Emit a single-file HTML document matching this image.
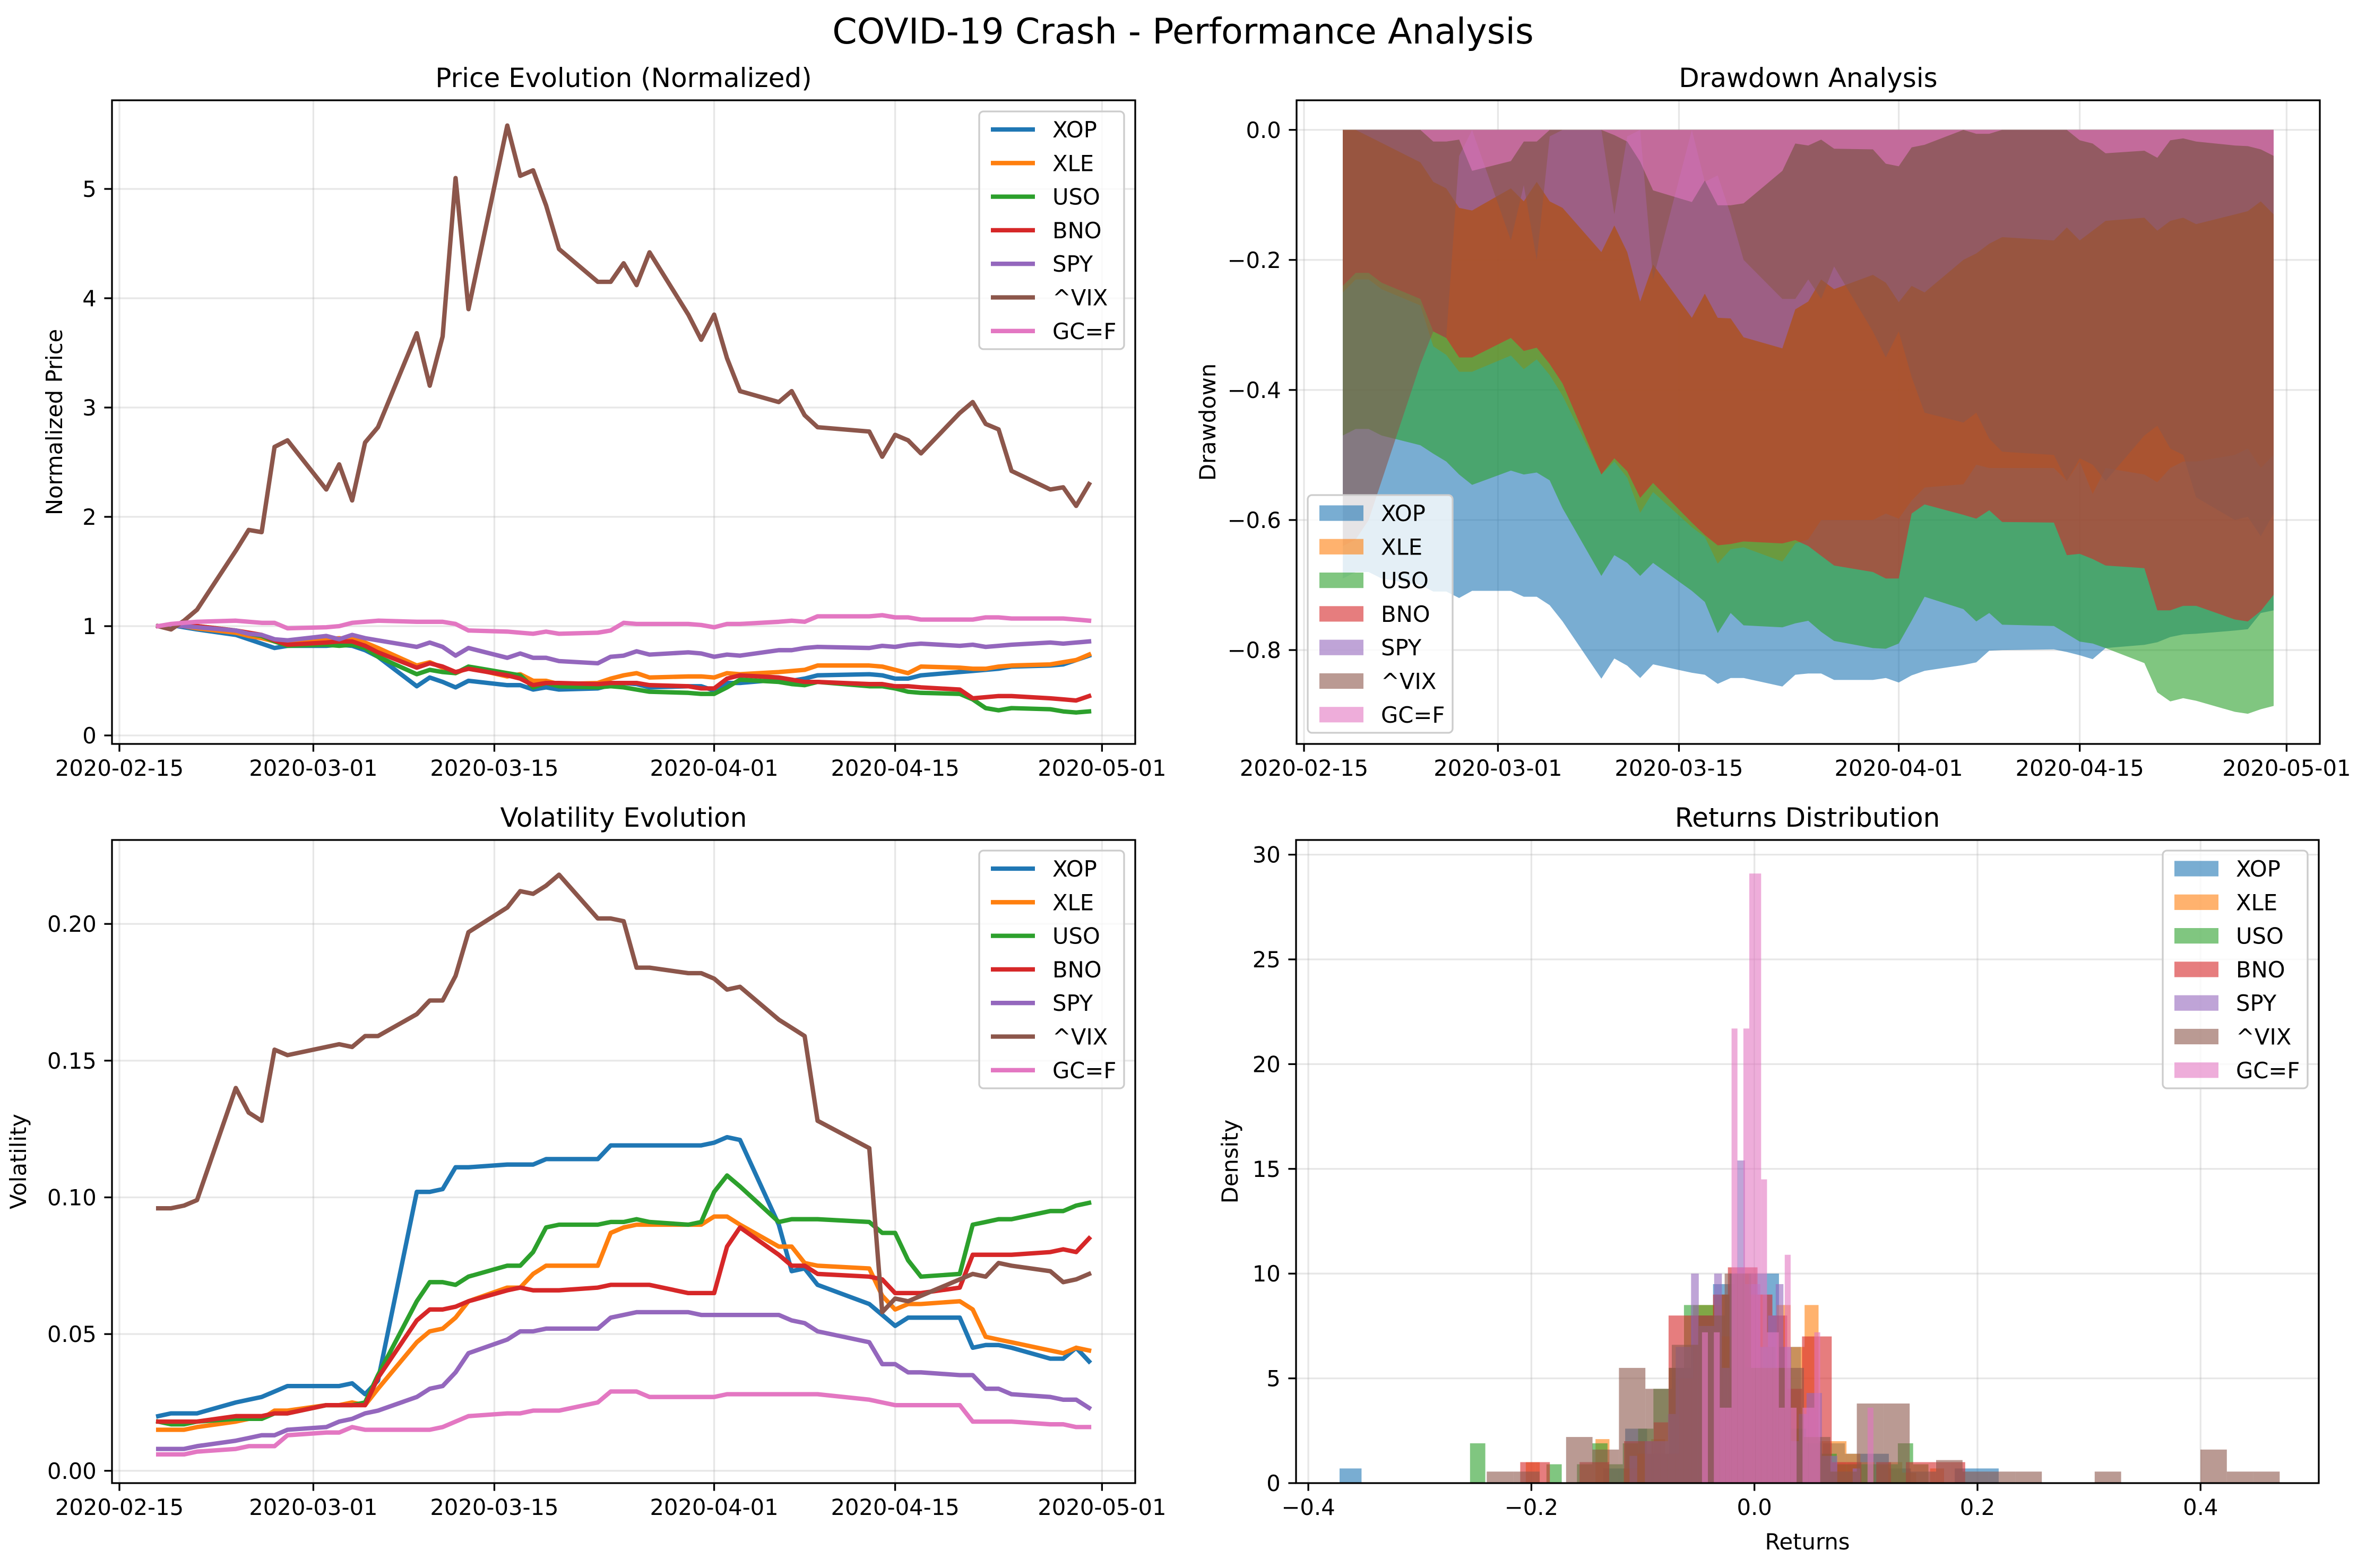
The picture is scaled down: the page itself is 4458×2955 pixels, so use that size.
<!DOCTYPE html>
<html><head><meta charset="utf-8"><title>COVID-19 Crash - Performance Analysis</title>
<style>html,body{margin:0;padding:0;background:#fff}svg{display:block;font-family:"DejaVu Sans","Liberation Sans",sans-serif}</style>
</head><body>
<svg id="fig" xmlns="http://www.w3.org/2000/svg" width="4458" height="2955" viewBox="0 0 4458 2955">
<rect x="0" y="0" width="4458" height="2955" fill="#fff"/>
<text x="2229" y="82" font-size="66.7" text-anchor="middle">COVID-19 Crash - Performance Analysis</text>
</svg>
<script>
// ---------- data ----------
const dates = ["2020-02-18","2020-02-19","2020-02-20","2020-02-21","2020-02-24","2020-02-25","2020-02-26","2020-02-27","2020-02-28",
"2020-03-02","2020-03-03","2020-03-04","2020-03-05","2020-03-06","2020-03-09","2020-03-10","2020-03-11","2020-03-12","2020-03-13",
"2020-03-16","2020-03-17","2020-03-18","2020-03-19","2020-03-20","2020-03-23","2020-03-24","2020-03-25","2020-03-26","2020-03-27","2020-03-30","2020-03-31",
"2020-04-01","2020-04-02","2020-04-03","2020-04-06","2020-04-07","2020-04-08","2020-04-09","2020-04-13","2020-04-14","2020-04-15","2020-04-16","2020-04-17",
"2020-04-20","2020-04-21","2020-04-22","2020-04-23","2020-04-24","2020-04-27","2020-04-28","2020-04-29","2020-04-30"];
const tickers = ["XOP","XLE","USO","BNO","SPY","^VIX","GC=F"];
const dateTicks = ["2020-02-15","2020-03-01","2020-03-15","2020-04-01","2020-04-15","2020-05-01"];

// Normalized price
const priceXOP = [1.00,1.01,0.99,0.97,0.92,0.88,0.84,0.80,0.82, 0.82,0.83,0.82,0.78,0.72,0.45,0.53,0.49,0.44,0.50,0.46,0.46,0.42,0.44,0.42,0.43,0.46,0.48,0.47,0.44,0.45,0.45, 0.41,0.48,0.48,0.51,0.50,0.52,0.55,0.56,0.55,0.52,0.52,0.55,0.58,0.59,0.60,0.61,0.63,0.64,0.65,0.69,0.73];
const priceXLE = [1.00,1.01,1.00,0.98,0.94,0.91,0.89,0.86,0.85, 0.88,0.89,0.88,0.85,0.80,0.64,0.67,0.62,0.57,0.62,0.54,0.56,0.50,0.50,0.47,0.48,0.52,0.55,0.57,0.53,0.54,0.54, 0.53,0.57,0.56,0.58,0.59,0.60,0.64,0.64,0.63,0.60,0.57,0.63,0.62,0.61,0.61,0.63,0.64,0.65,0.67,0.69,0.74];
const priceUSO = [1.00,1.01,1.02,1.00,0.96,0.93,0.91,0.86,0.82, 0.83,0.82,0.83,0.80,0.72,0.56,0.60,0.58,0.57,0.63,0.57,0.55,0.44,0.48,0.45,0.44,0.45,0.44,0.42,0.40,0.39,0.38, 0.38,0.44,0.51,0.49,0.47,0.46,0.49,0.45,0.45,0.43,0.40,0.39,0.38,0.33,0.25,0.23,0.25,0.24,0.22,0.21,0.22];
const priceBNO = [1.00,1.01,1.02,1.00,0.96,0.94,0.92,0.87,0.83, 0.85,0.86,0.86,0.82,0.76,0.62,0.66,0.63,0.58,0.61,0.55,0.52,0.46,0.48,0.48,0.47,0.48,0.48,0.48,0.46,0.45,0.43, 0.43,0.52,0.55,0.53,0.51,0.49,0.49,0.47,0.47,0.45,0.45,0.44,0.42,0.34,0.35,0.36,0.36,0.34,0.33,0.32,0.36];
const priceSPY = [1.00,1.01,1.00,0.99,0.96,0.93,0.92,0.88,0.87, 0.91,0.88,0.92,0.89,0.87,0.81,0.85,0.81,0.73,0.80,0.71,0.75,0.71,0.71,0.68,0.66,0.72,0.73,0.77,0.74,0.76,0.75, 0.72,0.74,0.73,0.78,0.78,0.80,0.81,0.80,0.82,0.81,0.83,0.84,0.82,0.83,0.81,0.82,0.83,0.85,0.84,0.85,0.86];
const priceVIX = [1.00,0.97,1.05,1.15,1.69,1.88,1.86,2.64,2.70, 2.25,2.48,2.15,2.68,2.82,3.68,3.20,3.65,5.10,3.90,5.58,5.12,5.17,4.85,4.45,4.15,4.15,4.32,4.12,4.42,3.85,3.62, 3.85,3.45,3.15,3.05,3.15,2.93,2.82,2.78,2.55,2.75,2.70,2.58,2.95,3.05,2.85,2.80,2.42,2.25,2.27,2.10,2.30];
const priceGC  = [1.00,1.02,1.03,1.04,1.05,1.04,1.03,1.03,0.98, 0.99,1.00,1.03,1.04,1.05,1.04,1.04,1.04,1.02,0.96,0.95,0.94,0.93,0.95,0.93,0.94,0.96,1.03,1.02,1.02,1.02,1.01, 0.99,1.02,1.02,1.04,1.05,1.04,1.09,1.09,1.10,1.08,1.08,1.06,1.06,1.06,1.08,1.08,1.07,1.07,1.07,1.06,1.05];

// Drawdown
const ddXOP = [-0.69,-0.68,-0.68,-0.69,-0.70,-0.71,-0.71,-0.72,-0.709, -0.709,-0.718,-0.718,-0.731,-0.756,-0.844,-0.813,-0.824,-0.843,-0.822,-0.835,-0.838,-0.852,-0.843,-0.843,-0.856,-0.838,-0.836,-0.836,-0.846,-0.846,-0.843, -0.850,-0.839,-0.832,-0.823,-0.819,-0.801,-0.800,-0.799,-0.803,-0.808,-0.814,-0.797,-0.792,-0.788,-0.780,-0.776,-0.775,-0.770,-0.768,-0.743,-0.739];
const ddXLE = [-0.25,-0.23,-0.23,-0.245,-0.27,-0.333,-0.346,-0.372,-0.372, -0.347,-0.368,-0.353,-0.377,-0.409,-0.53,-0.51,-0.535,-0.589,-0.557,-0.611,-0.626,-0.667,-0.645,-0.642,-0.664,-0.636,-0.63,-0.60,-0.60,-0.60,-0.59, -0.598,-0.57,-0.55,-0.545,-0.515,-0.52,-0.52,-0.52,-0.54,-0.51,-0.56,-0.52,-0.53,-0.542,-0.52,-0.51,-0.51,-0.50,-0.49,-0.52,-0.50];
const ddUSO = [-0.47,-0.46,-0.46,-0.47,-0.485,-0.498,-0.51,-0.53,-0.546, -0.524,-0.53,-0.527,-0.539,-0.582,-0.686,-0.654,-0.666,-0.686,-0.666,-0.709,-0.726,-0.774,-0.743,-0.762,-0.765,-0.759,-0.755,-0.772,-0.786,-0.797,-0.798, -0.79,-0.755,-0.718,-0.737,-0.756,-0.743,-0.761,-0.763,-0.775,-0.787,-0.79,-0.797,-0.82,-0.865,-0.879,-0.874,-0.878,-0.895,-0.898,-0.891,-0.886];
const ddBNO = [-0.24,-0.22,-0.22,-0.235,-0.26,-0.31,-0.32,-0.35,-0.35, -0.32,-0.34,-0.335,-0.36,-0.39,-0.53,-0.505,-0.525,-0.566,-0.543,-0.604,-0.623,-0.639,-0.637,-0.633,-0.636,-0.631,-0.64,-0.655,-0.67,-0.68,-0.69, -0.69,-0.59,-0.576,-0.592,-0.598,-0.585,-0.603,-0.604,-0.654,-0.652,-0.66,-0.67,-0.674,-0.739,-0.739,-0.732,-0.732,-0.753,-0.756,-0.74,-0.715];
const ddSPY = [0,0,-0.01,-0.02,-0.05,-0.08,-0.09,-0.12,-0.124, -0.09,-0.11,-0.08,-0.11,-0.12,-0.188,-0.147,-0.188,-0.264,-0.207,-0.289,-0.252,-0.289,-0.29,-0.319,-0.336,-0.276,-0.264,-0.23,-0.245,-0.223,-0.235, -0.265,-0.24,-0.25,-0.2,-0.19,-0.175,-0.165,-0.17,-0.15,-0.17,-0.155,-0.14,-0.135,-0.155,-0.14,-0.135,-0.145,-0.13,-0.125,-0.11,-0.13];
const ddVIX = [-0.64,-0.63,-0.60,-0.54,-0.36,-0.31,-0.32,-0.04,0, -0.17,-0.085,-0.2,-0.01,0,0,-0.13,-0.01,0,-0.23,0,-0.08,-0.07,-0.13,-0.2,-0.26,-0.26,-0.23,-0.26,-0.21,-0.31,-0.35, -0.31,-0.38,-0.435,-0.45,-0.435,-0.475,-0.495,-0.5,-0.54,-0.505,-0.515,-0.54,-0.47,-0.455,-0.49,-0.5,-0.565,-0.6,-0.595,-0.625,-0.59];
const ddGC  = [0,0,0,0,0,-0.018,-0.018,-0.015,-0.063, -0.048,-0.018,-0.018,0,0,0,-0.008,-0.018,-0.049,-0.093,-0.111,-0.078,-0.116,-0.116,-0.113,-0.063,-0.021,-0.024,-0.015,-0.029,-0.03,-0.052, -0.056,-0.027,-0.023,0,-0.006,-0.006,0,0,0,-0.016,-0.021,-0.036,-0.032,-0.043,-0.016,-0.013,-0.018,-0.024,-0.025,-0.03,-0.04];

// Volatility
const volXOP = [0.020,0.021,0.021,0.021,0.025,0.026,0.027,0.029,0.031, 0.031,0.031,0.032,0.028,0.033,0.102,0.102,0.103,0.111,0.111,0.112,0.112,0.112,0.114,0.114,0.114,0.119,0.119,0.119,0.119,0.119,0.119, 0.120,0.122,0.121,0.090,0.073,0.074,0.068,0.061,0.057,0.053,0.056,0.056,0.056,0.045,0.046,0.046,0.045,0.041,0.041,0.045,0.040];
const volXLE = [0.015,0.015,0.015,0.016,0.018,0.019,0.019,0.022,0.022, 0.024,0.024,0.025,0.024,0.030,0.047,0.051,0.052,0.056,0.062,0.067,0.067,0.072,0.075,0.075,0.075,0.087,0.089,0.090,0.090,0.090,0.090, 0.093,0.093,0.090,0.082,0.082,0.076,0.075,0.074,0.064,0.059,0.061,0.061,0.062,0.059,0.049,0.048,0.047,0.044,0.043,0.045,0.044];
const volUSO = [0.018,0.017,0.017,0.018,0.019,0.019,0.019,0.021,0.021, 0.024,0.024,0.024,0.025,0.035,0.062,0.069,0.069,0.068,0.071,0.075,0.075,0.080,0.089,0.090,0.090,0.091,0.091,0.092,0.091,0.090,0.091, 0.102,0.108,0.104,0.091,0.092,0.092,0.092,0.091,0.087,0.087,0.077,0.071,0.072,0.090,0.091,0.092,0.092,0.095,0.095,0.097,0.098];
const volBNO = [0.018,0.018,0.018,0.018,0.020,0.020,0.020,0.021,0.021, 0.024,0.024,0.024,0.024,0.034,0.055,0.059,0.059,0.060,0.062,0.066,0.067,0.066,0.066,0.066,0.067,0.068,0.068,0.068,0.068,0.065,0.065, 0.065,0.082,0.089,0.079,0.075,0.075,0.072,0.071,0.070,0.065,0.065,0.065,0.067,0.079,0.079,0.079,0.079,0.080,0.081,0.080,0.085];
const volSPY = [0.008,0.008,0.008,0.009,0.011,0.012,0.013,0.013,0.015, 0.016,0.018,0.019,0.021,0.022,0.027,0.030,0.031,0.036,0.043,0.048,0.051,0.051,0.052,0.052,0.052,0.056,0.057,0.058,0.058,0.058,0.057, 0.057,0.057,0.057,0.057,0.055,0.054,0.051,0.047,0.039,0.039,0.036,0.036,0.035,0.035,0.030,0.030,0.028,0.027,0.026,0.026,0.023];
const volVIX = [0.096,0.096,0.097,0.099,0.140,0.131,0.128,0.154,0.152, 0.155,0.156,0.155,0.159,0.159,0.167,0.172,0.172,0.181,0.197,0.206,0.212,0.211,0.214,0.218,0.202,0.202,0.201,0.184,0.184,0.182,0.182, 0.180,0.176,0.177,0.165,0.162,0.159,0.128,0.118,0.058,0.063,0.062,0.064,0.070,0.072,0.071,0.076,0.075,0.073,0.069,0.070,0.072];
const volGC  = [0.006,0.006,0.006,0.007,0.008,0.009,0.009,0.009,0.013, 0.014,0.014,0.016,0.015,0.015,0.015,0.015,0.016,0.018,0.020,0.021,0.021,0.022,0.022,0.022,0.025,0.029,0.029,0.029,0.027,0.027,0.027, 0.027,0.028,0.028,0.028,0.028,0.028,0.028,0.026,0.025,0.024,0.024,0.024,0.024,0.018,0.018,0.018,0.018,0.017,0.017,0.016,0.016];

// Returns histogram: bin start, bin width, density per bin (30 bins)
const histStart = [-0.372,-0.205,-0.255,-0.21,-0.112,-0.24,-0.0523];
const histWidth = [0.0197,0.0125,0.0137,0.0133,0.0069,0.0237,0.0053];
const histXOP = [0.7,0,0,0,0,0,0,0,0,0,0,0,0.7,2.6,1.4,5.5,8.0,9.5,10.0,10.0,6.5,1.4,1.9,1.4,1.4,0.7,0,0,0.7,0.7];
const histXLE = [1.0,0,0,0,0,2.1,0,0.7,1.4,2.1,1.4,5.0,8.5,8.5,7.0,10.0,9.0,5.5,8.5,6.5,8.5,2.0,2.0,1.4,1.0,0,1.0,0.5,0,0.7];
const histUSO = [1.9,0,0,0,0,0.9,0,0.9,1.9,0.9,1.9,2.6,4.5,5.5,8.5,8.5,9.0,10.0,5.5,6.5,3.5,2.6,1.9,1.4,0.9,0.9,0.9,0.9,1.9,0.9];
const histBNO = [1.0,1.0,0,0,1.0,1.0,0,2.0,2.0,2.9,8.0,8.0,8.0,9.0,10.3,10.3,9.0,8.0,4.5,7.0,7.0,1.0,1.0,0,1.0,0,1.0,1.0,1.0,1.0];
const histSPY = [1.3,0,2.0,2.0,2.0,3.3,6.5,6.5,10.0,7.5,7.5,10.0,5.5,10.0,15.4,9.5,9.5,6.5,8.0,9.5,6.5,2.0,3.3,4.3,4.3,1.3,1.3,0,0,0.7];
const histVIX = [0.55,0.55,0,2.2,1.6,5.5,4.5,6.6,8.0,10.0,5.5,5.5,2.2,0.55,3.8,3.8,0.55,1.1,0.55,0.55,0.55,0,0,0.55,0,0,0,1.6,0.55,0.55];
const histGC  = [0,7.2,0,7.2,3.6,3.6,21.7,10.3,21.7,29.1,29.1,14.5,7.2,7.2,3.6,10.9,3.6,0,3.6,3.6,7.2,0,0,0,0,0,0,0,0,3.6];

// ---------- rendering ----------
const COLORS = ["#1f77b4","#ff7f0e","#2ca02c","#d62728","#9467bd","#8c564b","#e377c2"];
const NS = "http://www.w3.org/2000/svg";
const svg = document.getElementById("fig");
function el(tag, attrs, parent){ const e=document.createElementNS(NS,tag); for(const k in attrs) e.setAttribute(k,attrs[k]); (parent||svg).appendChild(e); return e; }
const FS = 41.7, TICK = 14.6, PAD = 14.6, SPINE = 3.3;
const base = Date.UTC(2020,1,15);
function dayOf(s){ const p=s.split("-"); return (Date.UTC(+p[0],+p[1]-1,+p[2])-base)/86400000; }
function mkAxis(x0,y0,x1,y1,xmin,xmax,ymin,ymax){
  return {x0,y0,x1,y1, sx:v=>x0+(v-xmin)/(xmax-xmin)*(x1-x0), sy:v=>y1-(v-ymin)/(ymax-ymin)*(y1-y0)};
}
const axTL = mkAxis(211,189,2139,1402,-0.575,78.57,-0.0777,5.811);
const axTR = mkAxis(2443,189,4371,1402,-0.575,78.57,-0.9444,0.0455);
const axBL = mkAxis(211,1583,2139,2795,-0.575,78.57,-0.0045,0.2307);
const axBR = mkAxis(2442,1583,4369,2795,-0.411,0.506,0,30.7);
function fmtNum(v,d){ const s=Math.abs(v).toFixed(d); return (v<0?"\u2212":"")+s; }

function frame(ax, name, title, ylabel, ylabelX, xlabel, xticks, xlabels, yticks, ylabels){
  const g = el("g",{});
  
  
  const clip = el("clipPath",{id:name+"-clip"},g);
  el("rect",{x:ax.x0,y:ax.y0,width:ax.x1-ax.x0,height:ax.y1-ax.y0},clip);
  const grid = el("g",{stroke:"#b0b0b0","stroke-opacity":0.3,"stroke-width":3.3},g);
  
  
  xticks.forEach(v=>{ const x=ax.sx(v); el("line",{x1:x,x2:x,y1:ax.y0,y2:ax.y1},grid); });
  yticks.forEach(v=>{ const y=ax.sy(v); el("line",{x1:ax.x0,x2:ax.x1,y1:y,y2:y},grid); });
  const plot = el("g",{"clip-path":"url(#"+name+"-clip)"},g);
  
  
  const over = el("g",{},g);
  el("rect",{x:ax.x0,y:ax.y0,width:ax.x1-ax.x0,height:ax.y1-ax.y0,fill:"none",stroke:"#000","stroke-width":SPINE},over);
  const xt = el("g",{},over);
  
  
  xticks.forEach((v,i)=>{ const x=ax.sx(v);
    el("line",{x1:x,x2:x,y1:ax.y1,y2:ax.y1+TICK,stroke:"#000","stroke-width":3.3},xt);
    const t=el("text",{x:x,y:ax.y1+TICK+PAD+31,"font-size":FS,"text-anchor":"middle"},xt); t.textContent=xlabels[i];
    
    
  });
  const yt = el("g",{},over);
  
  
  yticks.forEach((v,i)=>{ const y=ax.sy(v);
    el("line",{x1:ax.x0-TICK,x2:ax.x0,y1:y,y2:y,stroke:"#000","stroke-width":3.3},yt);
    const t=el("text",{x:ax.x0-TICK-PAD,y:y+15,"font-size":FS,"text-anchor":"end"},yt); t.textContent=ylabels[i];
    
    
  });
  const tt=el("text",{x:(ax.x0+ax.x1)/2,y:ax.y0-25,"font-size":50,"text-anchor":"middle"},over); tt.textContent=title;
  
  
  const cy=(ax.y0+ax.y1)/2;
  const yl=el("text",{x:ylabelX,y:cy,"font-size":FS,"text-anchor":"middle",transform:"rotate(-90 "+ylabelX+" "+cy+")"},over); yl.textContent=ylabel;
  
  
  if(xlabel){ const xl=el("text",{x:(ax.x0+ax.x1)/2,y:2920,"font-size":FS,"text-anchor":"middle"},over); xl.textContent=xlabel;
    
     }
  return {plot, over};
}
function legend(parent, name, lx, ly, kind){
  const W=273, H=448;
  const g=el("g",{},parent);
  
  
  el("rect",{x:lx,y:ly,width:W,height:H,rx:8,fill:"#fff","fill-opacity":0.8,stroke:"#cccccc","stroke-width":3.3},g);
  tickers.forEach((tk,i)=>{
    const cy=ly+34+i*63.3, hx=lx+22;
    const e=el("g",{},g);
    
    
    if(kind==="line") el("line",{x1:hx,x2:hx+83,y1:cy,y2:cy,stroke:COLORS[i],"stroke-width":8.3},e);
    else el("rect",{x:hx,y:cy-14.6,width:83,height:29.2,fill:COLORS[i],"fill-opacity":0.6},e);
    const t=el("text",{x:hx+83+33,y:cy+15,"font-size":FS},e); t.textContent=tk;
  });
}
const dayTicks = dateTicks.map(dayOf);
const days = dates.map(dayOf);

// Panel 1: price
const priceSeries=[priceXOP,priceXLE,priceUSO,priceBNO,priceSPY,priceVIX,priceGC];
const p1=frame(axTL,"price-evolution-chart","Price Evolution (Normalized)","Normalized Price",117,null,dayTicks,dateTicks,[0,1,2,3,4,5],["0","1","2","3","4","5"]);
priceSeries.forEach((s,i)=>{ const pts=s.map((v,j)=>axTL.sx(days[j]).toFixed(1)+","+axTL.sy(v).toFixed(1)).join(" ");
  const l=el("polyline",{points:pts,fill:"none",stroke:COLORS[i],"stroke-width":8.3,"stroke-linejoin":"round","stroke-linecap":"square"},p1.plot);
  
   });
legend(p1.over,"price-legend",2118-273,210,"line");

// Panel 2: drawdown
const ddSeries=[ddXOP,ddXLE,ddUSO,ddBNO,ddSPY,ddVIX,ddGC];
const p2=frame(axTR,"drawdown-chart","Drawdown Analysis","Drawdown",2290,null,dayTicks,dateTicks,[0,-0.2,-0.4,-0.6,-0.8],[0,-0.2,-0.4,-0.6,-0.8].map(v=>fmtNum(v,1)));
ddSeries.forEach((s,i)=>{ let pts=s.map((v,j)=>axTR.sx(days[j]).toFixed(1)+","+axTR.sy(v).toFixed(1));
  pts.push(axTR.sx(days[days.length-1]).toFixed(1)+","+axTR.sy(0).toFixed(1)); pts.push(axTR.sx(days[0]).toFixed(1)+","+axTR.sy(0).toFixed(1));
  const p=el("polygon",{points:pts.join(" "),fill:COLORS[i],"fill-opacity":0.6},p2.plot);
  
   });
legend(p2.over,"drawdown-legend",2464,1381-448,"patch");

// Panel 3: volatility
const volSeries=[volXOP,volXLE,volUSO,volBNO,volSPY,volVIX,volGC];
const volTicks=[0,0.05,0.10,0.15,0.20];
const p3=frame(axBL,"volatility-chart","Volatility Evolution","Volatility",49,null,dayTicks,dateTicks,volTicks,volTicks.map(v=>v.toFixed(2)));
volSeries.forEach((s,i)=>{ const pts=s.map((v,j)=>axBL.sx(days[j]).toFixed(1)+","+axBL.sy(v).toFixed(1)).join(" ");
  const l=el("polyline",{points:pts,fill:"none",stroke:COLORS[i],"stroke-width":8.3,"stroke-linejoin":"round","stroke-linecap":"square"},p3.plot);
  
   });
legend(p3.over,"volatility-legend",2118-273,1603,"line");

// Panel 4: histogram
const histSeries=[histXOP,histXLE,histUSO,histBNO,histSPY,histVIX,histGC];
const rTicks=[-0.4,-0.2,0,0.2,0.4];
const dTicks=[0,5,10,15,20,25,30];
const p4=frame(axBR,"returns-distribution-chart","Returns Distribution","Density",2332,"Returns",rTicks,rTicks.map(v=>fmtNum(v,1)),dTicks,dTicks.map(String));
histSeries.forEach((s,i)=>{ const g=el("g",{fill:COLORS[i],"fill-opacity":0.6},p4.plot);
  
  
  s.forEach((h,j)=>{ if(h<=0) return; const a=histStart[i]+j*histWidth[i], b=a+histWidth[i];
    const x0=axBR.sx(a), x1=axBR.sx(b), y=axBR.sy(h);
    const r=el("rect",{x:x0.toFixed(1),y:y.toFixed(1),width:(x1-x0).toFixed(1),height:(axBR.sy(0)-y).toFixed(1)},g);
    
     });
});
legend(p4.over,"returns-legend",4348-273,1603,"patch");
</script>
</body></html>
